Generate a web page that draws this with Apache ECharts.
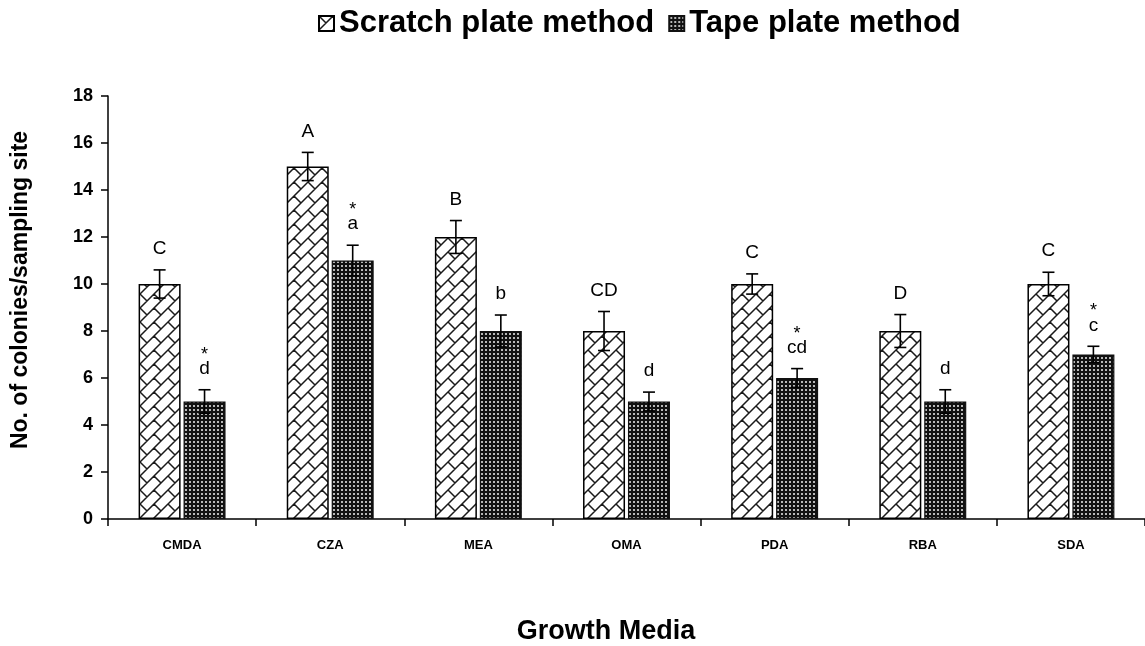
<!DOCTYPE html>
<html><head><meta charset="utf-8">
<script src="https://cdn.jsdelivr.net/npm/echarts@6/dist/echarts.min.js"></script>
<style>html,body{margin:0;padding:0;background:#fff}#c{width:1145px;height:646px}</style>
</head><body><div id="c"></div><script>
const categories = ['CMDA','CZA','MEA','OMA','PDA','RBA','SDA'];
const scratchValues = [10, 15, 12, 8, 10, 8, 10];
const tapeValues = [5, 11, 8, 5, 6, 5, 7];
const scratchErrors = [0.6, 0.6, 0.7, 0.83, 0.43, 0.7, 0.5];
const tapeErrors = [0.5, 0.65, 0.68, 0.4, 0.4, 0.5, 0.35];
const scratchLetters = ['C','A','B','CD','C','D','C'];
const tapeLetters = ['d','a','b','d','cd','d','c'];
const tapeStars = ['*','*','','','*','','*'];
const yMin = 0, yMax = 18, yInterval = 2;

const FONT = '"Liberation Sans", Arial, sans-serif';

function brickPattern(){
  const h = 14, T = 2*h;
  const cv = document.createElement('canvas'); cv.width = T; cv.height = T;
  const g = cv.getContext('2d');
  g.fillStyle = '#fff'; g.fillRect(0,0,T,T);
  g.strokeStyle = '#1a1a1a'; g.lineWidth = 1.5;
  g.beginPath();
  for (let k = -4; k <= 8; k++) {
    const s = k*h;
    g.moveTo(-T, s+T); g.lineTo(2*T, s-2*T);
    for (let m = -4; m <= 4; m++) {
      const c = 2*h*m + ((k % 2 !== 0) ? h : 0);
      g.moveTo((s+c)/2, (s-c)/2);
      g.lineTo((s+h+c)/2, (s+h-c)/2);
    }
  }
  g.stroke();
  return cv;
}
function dotPattern(){
  const T = 4;
  const cv = document.createElement('canvas'); cv.width = T; cv.height = T;
  const g = cv.getContext('2d');
  g.fillStyle = '#111'; g.fillRect(0,0,T,T);
  g.fillStyle = '#b8b8b8'; g.fillRect(1,1,2,2);
  return cv;
}
const brick = {image: brickPattern(), repeat: 'repeat'};
const dots = {image: dotPattern(), repeat: 'repeat'};

const BAR_W = 42, BAR_GAP = '7%';
const OFFSET = (BAR_W + BAR_W*0.07)/2;

function errRender(vals, errs, letters, stars, side){
  return function(params, api){
    const i = params.dataIndex;
    const v = vals[i], e = errs[i];
    const top = api.coord([i, v + e]);
    const bot = api.coord([i, v - e]);
    const x = top[0] + side*OFFSET;
    const ls = {stroke:'#000', lineWidth:1.6};
    const children = [
      {type:'line', shape:{x1:x, y1:top[1], x2:x, y2:bot[1]}, style:ls},
      {type:'line', shape:{x1:x-6, y1:top[1], x2:x+6, y2:top[1]}, style:ls},
      {type:'line', shape:{x1:x-6, y1:bot[1], x2:x+6, y2:bot[1]}, style:ls},
      {type:'text', style:{text:letters[i], x:x, y:top[1]-21, align:'center', verticalAlign:'middle', font:'19px '+FONT, fill:'#000'}}
    ];
    if (stars && stars[i]) {
      children.push({type:'text', style:{text:stars[i], x:x, y:top[1]-35, align:'center', verticalAlign:'middle', font:'18px '+FONT, fill:'#000'}});
    }
    return {type:'group', children};
  };
}

const chart = echarts.init(document.getElementById('c'), null, {renderer:'canvas'});
chart.setOption({
  animation:false,
  backgroundColor:'#fff',
  textStyle:{fontFamily:FONT},
  legend:{
    left:313, top:3, icon:'rect', itemWidth:15, itemHeight:15, itemGap:14,
    data:['Scratch plate method','Tape plate method'],
    textStyle:{fontSize:31, fontWeight:'bold', color:'#000', fontFamily:FONT}
  },
  grid:{left:108, top:96, width:1045, height:423},
  xAxis:{
    type:'category', data:categories,
    axisLine:{lineStyle:{color:'#000', width:1.5}},
    axisTick:{show:true, length:7, lineStyle:{color:'#000', width:1.5}},
    axisLabel:{color:'#000', fontWeight:'bold', fontSize:13, margin:20, fontFamily:FONT}
  },
  yAxis:{
    type:'value', min:yMin, max:yMax, interval:yInterval,
    splitLine:{show:false},
    axisLine:{show:true, lineStyle:{color:'#000', width:1.5}},
    axisTick:{show:true, length:7, lineStyle:{color:'#000', width:1.5}},
    axisLabel:{color:'#000', fontWeight:'bold', fontSize:18, margin:15, fontFamily:FONT}
  },
  graphic:[
    {type:'text', x:606, y:632, style:{text:'Growth Media', font:'bold 27px '+FONT, fill:'#000', align:'center', verticalAlign:'middle'}},
    {type:'text', x:21, y:290, rotation:Math.PI/2, style:{text:'No. of colonies/sampling site', font:'bold 23px '+FONT, fill:'#000', align:'center', verticalAlign:'middle'}}
  ],
  series:[
    {name:'Scratch plate method', type:'bar', data:scratchValues, barWidth:BAR_W, barGap:BAR_GAP,
     itemStyle:{color:brick, borderColor:'#000', borderWidth:1.5}},
    {name:'Tape plate method', type:'bar', data:tapeValues, barWidth:BAR_W, barGap:BAR_GAP,
     itemStyle:{color:dots, borderColor:'#111', borderWidth:1.2}},
    {type:'custom', z:10, data:scratchValues.map((v,i)=>[i,v]), encode:{x:0,y:1},
     renderItem:errRender(scratchValues, scratchErrors, scratchLetters, null, -1)},
    {type:'custom', z:10, data:tapeValues.map((v,i)=>[i,v]), encode:{x:0,y:1},
     renderItem:errRender(tapeValues, tapeErrors, tapeLetters, tapeStars, 1)}
  ]
});
</script></body></html>
